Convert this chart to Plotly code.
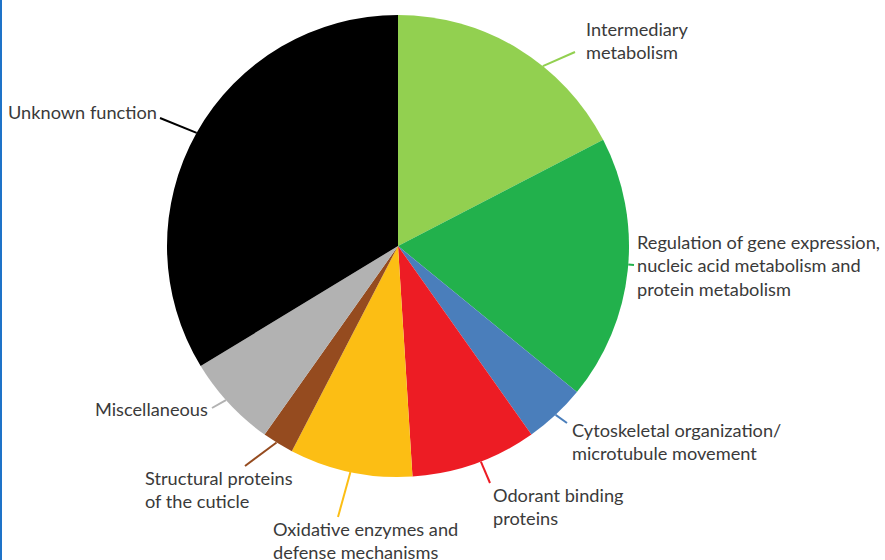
import math
import plotly.graph_objects as go

# ---- data ----
categories = [
    "Intermediary\nmetabolism",
    "Regulation of gene expression,\nnucleic acid metabolism and\nprotein metabolism",
    "Cytoskeletal organization/\nmicrotubule movement",
    "Odorant binding\nproteins",
    "Oxidative enzymes and\ndefense mechanisms",
    "Structural proteins\nof the cuticle",
    "Miscellaneous",
    "Unknown function",
]
values = [17.4, 18.5, 4.3, 8.8, 8.6, 2.2, 6.5, 33.7]
colors = ["#92D050", "#22B14C", "#4A7EBB", "#ED1C24", "#FCBE14", "#954B1F", "#B2B2B2", "#000000"]

# ---- layout / style (pixels) ----
W, H = 885, 560
CX, CY, R = 398, 246, 231
# per label: text x, text anchor, first-line centre y, leader end (x, y), position of anchor within slice
label_layout = [
    (585, "left", 29, (575, 52), 0.62),
    (636, "left", 242, (634, 265), 0.48),
    (571, "left", 430, (567, 423), 0.5),
    (492, "left", 495, (490, 483), 0.45),
    (272, "left", 529, (338, 517), 0.5),
    (144, "left", 478, (245, 466), 0.55),
    (209, "right", 409, (212, 408), 0.55),
    (158, "right", 112, (160, 118), 0.5),
]
LINE_STEP = 23.3
FONT = dict(family="Lato, 'Open Sans', sans-serif", size=18.2, color="#3A3A3A")


def px(x):
    return x / W


def py(y):
    return 1 - y / H


fig = go.Figure(
    go.Pie(
        labels=[c.replace("\n", " ") for c in categories],
        values=values,
        marker=dict(colors=colors, line=dict(width=0)),
        sort=False,
        direction="clockwise",
        rotation=0,
        textinfo="none",
        hoverinfo="label+percent",
        domain=dict(x=[px(CX - R), px(CX + R)], y=[py(CY + R), py(CY - R)]),
        showlegend=False,
    )
)

total = sum(values)
shapes = []
annotations = []
start = 0.0
for cat, val, col, (tx, anch, ty, (ex, ey), frac) in zip(categories, values, colors, label_layout):
    span = val / total * 360.0
    ang = math.radians(start + frac * span)
    start += span
    ax_ = CX + R * math.sin(ang)
    ay_ = CY - R * math.cos(ang)
    shapes.append(dict(type="line", xref="paper", yref="paper",
                       x0=px(ax_), y0=py(ay_), x1=px(ex), y1=py(ey),
                       line=dict(color=col, width=2)))
    for i, line in enumerate(cat.split("\n")):
        annotations.append(dict(text=line, xref="paper", yref="paper",
                                x=px(tx), y=py(ty + i * LINE_STEP),
                                xanchor=anch, yanchor="middle", showarrow=False,
                                font=FONT, borderpad=0))

# blue frame edge at left
shapes.append(dict(type="line", xref="paper", yref="paper", x0=px(1), x1=px(1), y0=0, y1=1,
                   line=dict(color="#1E73C8", width=2)))

fig.update_layout(
    width=W, height=H,
    margin=dict(l=0, r=0, t=0, b=0),
    paper_bgcolor="white", plot_bgcolor="white",
    shapes=shapes, annotations=annotations,
)

fig.write_html("out.html", config={"displayModeBar": False})

# remove the default page margin so the figure fills the window exactly
with open("out.html", "r", encoding="utf-8") as f:
    html = f.read()
html = html.replace("<head>", "<head><style>html,body{margin:0;padding:0;overflow:hidden;}</style>", 1)
with open("out.html", "w", encoding="utf-8") as f:
    f.write(html)
